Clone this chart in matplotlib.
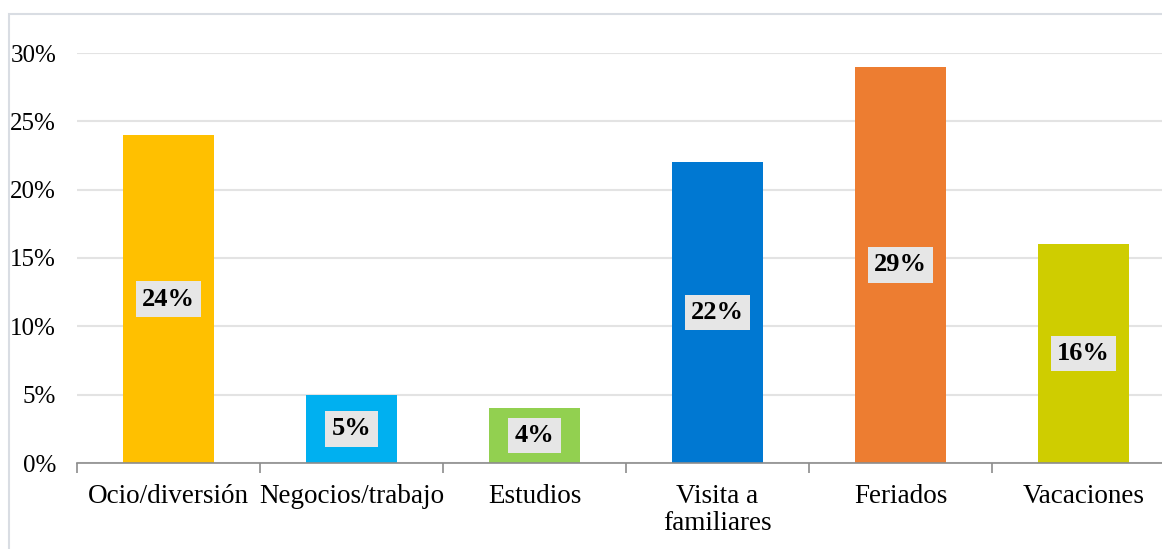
import matplotlib.pyplot as plt
from matplotlib.patches import Rectangle
from matplotlib.ticker import FixedLocator, PercentFormatter

categorias = ["Ocio/diversión", "Negocios/trabajo", "Estudios",
              "Visita a\nfamiliares", "Feriados", "Vacaciones"]
valores = [0.24, 0.05, 0.04, 0.22, 0.29, 0.16]
colores = ["#FFC000", "#00B0F0", "#92D050", "#0078D2", "#ED7D31", "#CFCD00"]
yticks = [0, 0.05, 0.10, 0.15, 0.20, 0.25, 0.30]

plt.rcParams["font.family"] = ["Liberation Serif", "DejaVu Serif"]

fig = plt.figure(figsize=(11.62, 5.49), dpi=100)
W, H = 1162, 549

# marco exterior del gráfico
fig.patches.append(Rectangle((9 / W, -0.1), 1.2, 1 - 14 / H + 0.1,
                             transform=fig.transFigure, fill=False,
                             edgecolor="#d9dde3", linewidth=1.5))

ax = fig.add_axes([77 / W, 86 / H, 1098 / W, 410 / H])
x = list(range(len(categorias)))
bars = ax.bar(x, valores, width=0.5, color=colores, zorder=2)

for b, v in zip(bars, valores):
    ax.text(b.get_x() + b.get_width() / 2, v / 2, f"{v*100:.0f}%",
            ha="center", va="center", fontsize=19, fontweight="bold",
            bbox=dict(facecolor="#e6e6e6", edgecolor="none", pad=4.5), zorder=3)

ax.set_xlim(-0.5, len(categorias) - 0.5)
ax.set_ylim(0, 0.30)
ax.set_yticks(yticks)
ax.yaxis.set_major_formatter(PercentFormatter(1.0, decimals=0))
ax.grid(axis="y", color="#e3e3e3", linewidth=1.5, zorder=0)
ax.set_axisbelow(True)

ax.set_xticks(x)
ax.set_xticklabels(categorias, fontsize=19.5, linespacing=1.1)
ax.xaxis.set_minor_locator(FixedLocator([i - 0.5 for i in range(len(categorias) + 1)]))
ax.tick_params(axis="x", which="major", length=0, pad=15)
ax.tick_params(axis="x", which="minor", length=7, color="#8c8c8c", width=1.2)
ax.tick_params(axis="y", length=0, labelsize=18, pad=15)

for s in ["top", "right", "left"]:
    ax.spines[s].set_visible(False)
ax.spines["bottom"].set_color("#8c8c8c")
ax.spines["bottom"].set_linewidth(1.2)

fig.savefig("out.png", dpi=100)
